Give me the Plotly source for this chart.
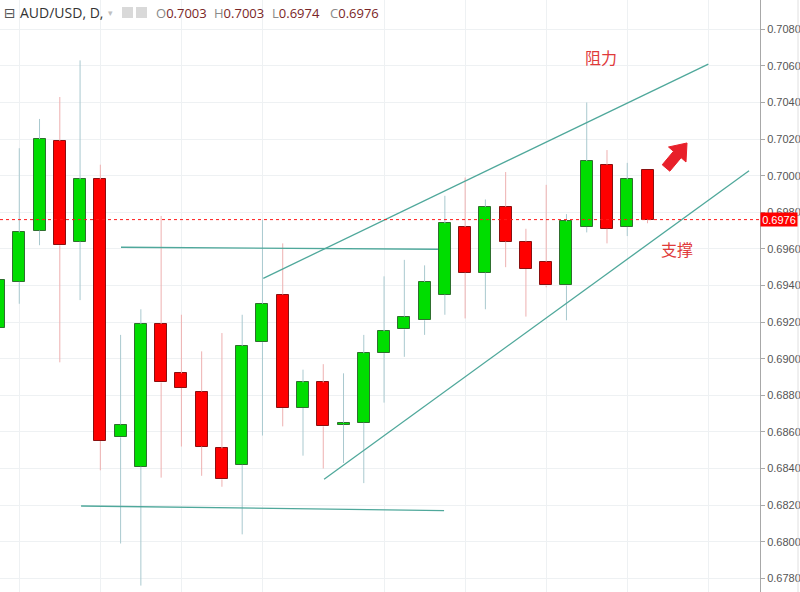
import plotly.graph_objects as go

# ---- data ----
idx = list(range(33))
opens  = [0.6917, 0.6942, 0.6970, 0.7019, 0.6964, 0.6998, 0.6857, 0.6841, 0.6919, 0.6892, 0.6882,
          0.6851, 0.6842, 0.6909, 0.6935, 0.6873, 0.6887, 0.6864, 0.6865, 0.6903, 0.6916, 0.6921,
          0.6935, 0.6972, 0.6947, 0.6983, 0.6964, 0.6953, 0.6940, 0.6972, 0.7006, 0.6972, 0.7003]
highs  = [0.6947, 0.7015, 0.7031, 0.7043, 0.7063, 0.7006, 0.6913, 0.6927, 0.6978, 0.6924, 0.6904,
          0.6914, 0.6924, 0.6976, 0.6963, 0.6894, 0.6897, 0.6892, 0.6913, 0.6945, 0.6954, 0.6951,
          0.6989, 0.6999, 0.6987, 0.7002, 0.6971, 0.6995, 0.6979, 0.7040, 0.7014, 0.7007, 0.7003]
lows   = [0.6911, 0.6930, 0.6962, 0.6898, 0.6932, 0.6839, 0.6799, 0.6776, 0.6835, 0.6852, 0.6836,
          0.6830, 0.6804, 0.6858, 0.6863, 0.6847, 0.6840, 0.6843, 0.6832, 0.6876, 0.6901, 0.6913,
          0.6924, 0.6922, 0.6927, 0.6950, 0.6923, 0.6939, 0.6921, 0.6969, 0.6963, 0.6967, 0.6974]
closes = [0.6943, 0.6969, 0.7020, 0.6962, 0.6998, 0.6855, 0.6864, 0.6919, 0.6887, 0.6884, 0.6852,
          0.6834, 0.6907, 0.6930, 0.6873, 0.6887, 0.6863, 0.6865, 0.6903, 0.6915, 0.6923, 0.6942,
          0.6974, 0.6947, 0.6983, 0.6964, 0.6949, 0.6940, 0.6975, 0.7008, 0.6971, 0.6998, 0.6976]
last_price = 0.6976
grid_idx = [1, 5, 9, 13, 19, 23, 27, 31, 35]
y_ticks = [0.6780 + 0.002 * k for k in range(16)]

# trend lines: (x0, y0, x1, y1) in (bar index, price)
resistance_flat = (6.02, 0.69609, 21.66, 0.69598)
support_flat = (4.05, 0.68195, 21.96, 0.68170)
channel_top = (13.04, 0.69439, 35.0, 0.70610)
channel_bottom = (16.04, 0.68341, 37.01, 0.70027)
labels = [("阻力", 29.72, 0.70649), ("支撑", 33.46, 0.69602)]

W, H = 800, 592
PLOT_W = 760
X_RANGE = [0.0493, 37.55]
Y_RANGE = [0.67725, 0.70960]

GREEN, GREEN_EDGE, GREEN_WICK = "#00dd00", "#2f6f2f", "#a9c9cf"
RED, RED_EDGE, RED_WICK = "#ff0000", "#8a1010", "#eeb0b0"
TEAL = "#4fa89b"

fig = go.Figure()

# wicks (outside the bodies)
def wick_xy(sel):
    xs, ys = [], []
    for i in sel:
        top, bot = max(opens[i], closes[i]), min(opens[i], closes[i])
        xs += [i, i, None, i, i, None]
        ys += [highs[i], top, None, bot, lows[i], None]
    return xs, ys

up = [i for i in idx if closes[i] >= opens[i]]
dn = [i for i in idx if closes[i] < opens[i]]
for sel, col in ((up, GREEN_WICK), (dn, RED_WICK)):
    xs, ys = wick_xy(sel)
    fig.add_trace(go.Scatter(x=xs, y=ys, mode="lines", line=dict(color=col, width=1),
                             hoverinfo="skip", showlegend=False))

for sel, fill, edge in ((up, GREEN, GREEN_EDGE), (dn, RED, RED_EDGE)):
    fig.add_trace(go.Bar(
        x=sel,
        y=[max(abs(closes[i] - opens[i]), 0.00008) for i in sel],
        base=[min(opens[i], closes[i]) for i in sel],
        width=0.59,
        marker=dict(color=fill, line=dict(color=edge, width=1)),
        showlegend=False, hoverinfo="skip"))

shapes = []
for (x0, y0, x1, y1) in (resistance_flat, support_flat, channel_top, channel_bottom):
    shapes.append(dict(type="line", xref="x", yref="y", x0=x0, y0=y0, x1=x1, y1=y1,
                       line=dict(color=TEAL, width=1.3)))
# current price dotted line
shapes.append(dict(type="line", xref="paper", yref="y", x0=0, x1=1, y0=last_price, y1=last_price,
                   line=dict(color="#ff1a1a", width=1, dash="dot")))
# right border
shapes.append(dict(type="line", xref="paper", yref="paper", x0=798 / PLOT_W, x1=798 / PLOT_W,
                   y0=0, y1=1, line=dict(color="#e0e0e0", width=1)))

def px(x, y):
    return x / PLOT_W, 1 - y / H

# red arrow (pixel outline converted to paper)
arrow_pts = [(687, 143), (686, 162), (681.1, 157.7), (669.8, 171.2), (662.2, 164.8),
             (673.5, 151.3), (668.5, 147)]
path = "M " + " L ".join("%.5f,%.5f" % px(x, y) for x, y in arrow_pts) + " Z"
shapes.append(dict(type="path", xref="paper", yref="paper", path=path,
                   fillcolor="#e8202a", line=dict(color="#e8202a", width=1)))

# header icons
for x0 in (122, 136):
    a, b = px(x0, 7)
    c, d = px(x0 + 11, 18)
    shapes.append(dict(type="rect", xref="paper", yref="paper", x0=a, y0=d, x1=c, y1=b,
                       fillcolor="#d9d9d9", line=dict(width=0)))
fig.update_layout(shapes=shapes)

ann = []
for txt, x, y in labels:
    ann.append(dict(x=x, y=y, xref="x", yref="y", text=txt, showarrow=False,
                    font=dict(family="Noto Sans CJK SC", size=16, color="#e03a3a")))

def header(text, x, color, size=13, fam="Open Sans"):
    xp, yp = px(x, 13)
    ann.append(dict(x=xp, y=yp, xref="paper", yref="paper", xanchor="left", yanchor="middle",
                    text=text, showarrow=False, font=dict(family=fam, size=size, color=color)))

header("⊟", 2, "#555", 14, "DejaVu Sans")
header("AUD/USD, D,", 18, "#333333", 14)
header("▾", 106, "#c0c0c0", 9, "DejaVu Sans")
for lab, val, x in (("O", opens[-1], 154), ("H", highs[-1], 212), ("L", lows[-1], 270), ("C", closes[-1], 328)):
    header("<span style='color:#8a8a8a'>%s</span>%.4f" % (lab, val), x, "#7a2626", 13)

ann.append(dict(x=1, y=last_price, xref="paper", yref="y", xanchor="left", yanchor="middle",
                xshift=0, text="%.4f" % last_price, showarrow=False, bgcolor="#ff0000",
                width=36, height=13, borderpad=0,
                font=dict(family="Liberation Sans", size=11, color="white")))
fig.update_layout(annotations=ann)

fig.update_layout(
    width=W, height=H, margin=dict(l=0, r=W - PLOT_W, t=0, b=0),
    paper_bgcolor="white", plot_bgcolor="white", barmode="overlay", bargap=0,
    xaxis=dict(range=X_RANGE, tickvals=grid_idx, showticklabels=False, showgrid=True,
               gridcolor="#eef1f3", gridwidth=1, zeroline=False, showline=False, ticks=""),
    yaxis=dict(range=Y_RANGE, side="right", tickvals=y_ticks,
               ticktext=["%.4f" % v for v in y_ticks], showgrid=True, gridcolor="#eef1f3",
               zeroline=False, showline=True, linecolor="#a8a8a8", linewidth=1,
               ticks="outside", ticklen=4, tickcolor="#a8a8a8",
               tickfont=dict(family="Liberation Sans", size=11, color="#555")),
    showlegend=False,
)

fig.write_html("out.html", config={"displayModeBar": False},
               post_script="document.body.style.margin='0px';document.body.style.overflow='hidden';")
